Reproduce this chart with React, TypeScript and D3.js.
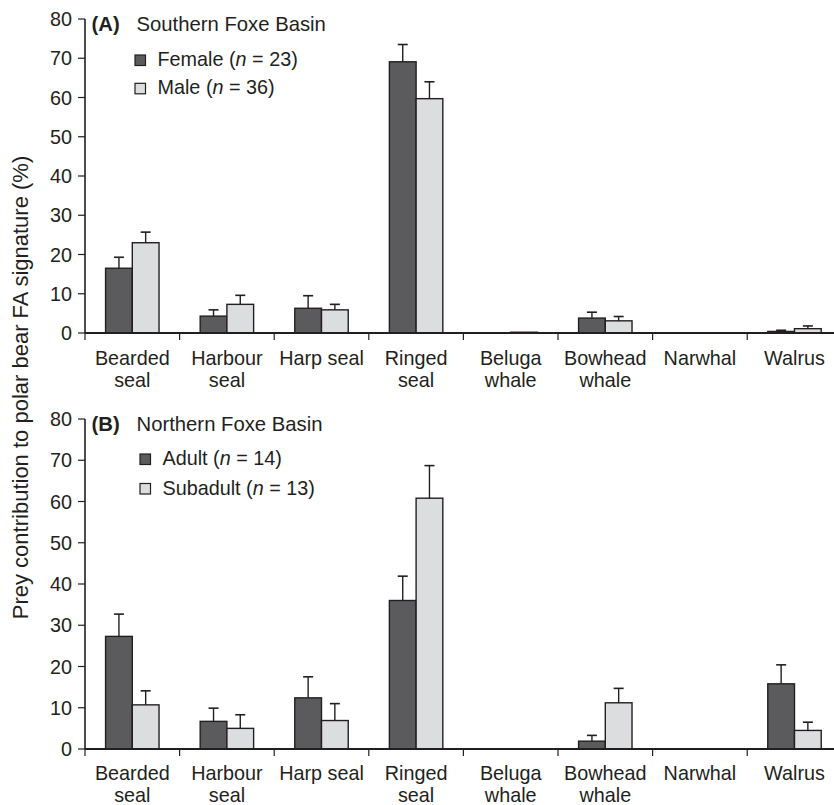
import React from "react";
import * as d3 from "d3";

const categories = [
  ["Bearded", "seal"],
  ["Harbour", "seal"],
  ["Harp seal"],
  ["Ringed", "seal"],
  ["Beluga", "whale"],
  ["Bowhead", "whale"],
  ["Narwhal"],
  ["Walrus"],
];
const yTicks = [0, 10, 20, 30, 40, 50, 60, 70, 80];

const femaleA = [16.5, 4.3, 6.3, 69.1, 0, 3.8, 0, 0.4];
const femaleASE = [2.8, 1.6, 3.2, 4.4, 0, 1.5, 0, 0.3];
const maleA = [23.0, 7.3, 5.9, 59.7, 0.2, 3.1, 0, 1.1];
const maleASE = [2.7, 2.3, 1.4, 4.3, 0, 1.1, 0, 0.7];

const adultB = [27.3, 6.7, 12.4, 36.0, 0, 1.9, 0, 15.8];
const adultBSE = [5.4, 3.2, 5.1, 5.9, 0, 1.4, 0, 4.6];
const subB = [10.7, 5.0, 6.9, 60.8, 0, 11.2, 0, 4.5];
const subBSE = [3.4, 3.3, 4.1, 7.9, 0, 3.5, 0, 2.0];

const DARK = "#5b5b5d";
const LIGHT = "#dcdddf";
const INK = "#231f20";
const FONT = "'Liberation Sans', Arial, Helvetica, sans-serif";
const FS = 19.8;

type Series = { name: string; n: number; values: number[]; se: number[]; fill: string };

function Panel({
  top,
  bottom,
  letter,
  title,
  series,
  legendX,
  legendY,
  legendGap,
  labelOffset,
}: {
  top: number;
  bottom: number;
  letter: string;
  title: string;
  series: Series[];
  legendX: number;
  legendY: number;
  legendGap: number;
  labelOffset: number;
}) {
  const left = 85;
  const step = 94.6;
  const x = d3
    .scaleBand<number>()
    .domain(categories.map((_, i) => i))
    .range([left, left + step * categories.length])
    .padding(0);
  const x1 = d3
    .scaleBand<number>()
    .domain(series.map((_, i) => i))
    .range([0, x.bandwidth()])
    .paddingInner(0)
    .paddingOuter(0.77);
  const y = d3.scaleLinear().domain([0, 80]).range([bottom, top]);
  const bw = x1.bandwidth();
  const boundaries = categories.map((_, i) => x(i)!);

  return (
    <g>
      {series.map((s, si) =>
        s.values.map((v, ci) => {
          if (v <= 0) return null;
          const bx = x(ci)! + x1(si)!;
          const yTop = y(v);
          return (
            <rect
              key={`b${si}-${ci}`}
              x={bx}
              y={yTop}
              width={bw}
              height={y(0) - yTop}
              fill={s.fill}
              stroke={INK}
              strokeWidth={1.4}
            />
          );
        })
      )}
      {series.map((s, si) =>
        s.values.map((v, ci) => {
          const e = s.se[ci];
          if (e <= 0) return null;
          const cx = x(ci)! + x1(si)! + bw / 2;
          return (
            <g key={`e${si}-${ci}`} stroke={INK} strokeWidth={1.4}>
              <line x1={cx} x2={cx} y1={y(v)} y2={y(v + e)} />
              <line x1={cx - 5} x2={cx + 5} y1={y(v + e)} y2={y(v + e)} strokeWidth={1.6} />
            </g>
          );
        })
      )}
      <line x1={left} x2={left} y1={y(80)} y2={y(0)} stroke={INK} strokeWidth={1.6} />
      {yTicks.map((t) => (
        <g key={t}>
          <line x1={left - 7} x2={left} y1={y(t)} y2={y(t)} stroke={INK} strokeWidth={1.2} />
          <text
            x={left - 13}
            y={y(t)}
            dy="0.36em"
            textAnchor="end"
            fontSize={FS}
            fontFamily={FONT}
            fill={INK}
          >
            {t}
          </text>
        </g>
      ))}
      <line x1={left} x2={left + step * categories.length} y1={y(0)} y2={y(0)} stroke={INK} strokeWidth={2.2} />
      {boundaries.map((bx, i) => (
        <line key={i} x1={bx} x2={bx} y1={y(0)} y2={y(0) + 7} stroke={INK} strokeWidth={1.2} />
      ))}
      {categories.map((lines, ci) => (
        <text key={ci} textAnchor="middle" fontSize={FS} fontFamily={FONT} fill={INK}>
          {lines.map((ln, li) => (
            <tspan key={li} x={x(ci)! + x.bandwidth() / 2} y={y(0) + labelOffset + li * 22}>
              {ln}
            </tspan>
          ))}
        </text>
      ))}
      <text x={91.5} y={top + 12} fontSize={20.3} fontFamily={FONT} fill={INK}>
        <tspan fontWeight="bold">{letter}</tspan>
        <tspan x={136.5}>{title}</tspan>
      </text>
      {series.map((s, si) => (
        <g key={`l${si}`} transform={`translate(${legendX},${legendY + si * legendGap})`}>
          <rect x={0} y={-11} width={10.5} height={10.5} fill={s.fill} stroke={INK} strokeWidth={1.2} />
          <text x={22.5} y={0} fontSize={FS} fontFamily={FONT} fill={INK}>
            {s.name} (<tspan fontStyle="italic">n</tspan> = {s.n})
          </text>
        </g>
      ))}
    </g>
  );
}

export default function App() {
  const seriesA: Series[] = [
    { name: "Female", n: 23, values: femaleA, se: femaleASE, fill: DARK },
    { name: "Male", n: 36, values: maleA, se: maleASE, fill: LIGHT },
  ];
  const seriesB: Series[] = [
    { name: "Adult", n: 14, values: adultB, se: adultBSE, fill: DARK },
    { name: "Subadult", n: 13, values: subB, se: subBSE, fill: LIGHT },
  ];
  return (
    <svg
      width={834}
      height={805}
      style={{ position: "absolute", left: 0, top: 0, background: "#fff" }}
    >
      <rect width={834} height={805} fill="#fff" />
      <Panel
        top={19}
        bottom={333}
        letter="(A)"
        title="Southern Foxe Basin"
        series={seriesA}
        legendX={135}
        legendY={66}
        legendGap={28.3}
        labelOffset={32}
      />
      <Panel
        top={419}
        bottom={749}
        letter="(B)"
        title="Northern Foxe Basin"
        series={seriesB}
        legendX={140}
        legendY={465}
        legendGap={29.5}
        labelOffset={31}
      />
      <text
        transform="translate(28,387.5) rotate(-90)"
        textAnchor="middle"
        fontSize={22}
        fontFamily={FONT}
        fill={INK}
      >
        Prey contribution to polar bear FA signature (%)
      </text>
    </svg>
  );
}
